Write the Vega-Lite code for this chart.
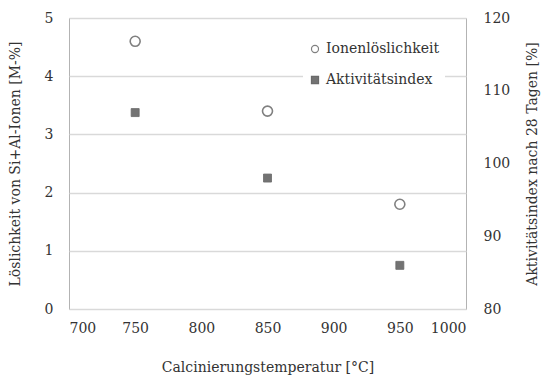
{
  "$schema": "https://vega.github.io/schema/vega-lite/v6.json",
  "width": 397,
  "height": 291,
  "autosize": "none",
  "padding": {"left": 69, "top": 18, "right": 81, "bottom": 74},
  "background": "white",
  "config": {
    "font": "DejaVu Serif",
    "view": {"stroke": "#b3b3b3", "strokeWidth": 1},
    "axis": {
      "labelFont": "DejaVu Serif",
      "titleFont": "DejaVu Serif",
      "labelFontSize": 14,
      "titleFontSize": 14,
      "titleFontWeight": "normal",
      "labelColor": "#333333",
      "titleColor": "#333333",
      "domain": false,
      "ticks": false,
      "gridColor": "#d9d9d9",
      "gridWidth": 1.5
    },
    "legend": {
      "labelFont": "DejaVu Serif",
      "labelFontSize": 14,
      "labelColor": "#333333"
    }
  },
  "data": {
    "values": [
      {"temp": 750, "series": "Ionenlöslichkeit", "loes": 4.6},
      {"temp": 850, "series": "Ionenlöslichkeit", "loes": 3.4},
      {"temp": 950, "series": "Ionenlöslichkeit", "loes": 1.8},
      {"temp": 750, "series": "Aktivitätsindex", "akt": 107},
      {"temp": 850, "series": "Aktivitätsindex", "akt": 98},
      {"temp": 950, "series": "Aktivitätsindex", "akt": 86}
    ]
  },
  "encoding": {
    "x": {
      "field": "temp",
      "type": "quantitative",
      "scale": {"domain": [700, 1000], "nice": false, "zero": false},
      "axis": {
        "values": [700, 750, 800, 850, 900, 950, 1000],
        "format": "d",
        "grid": false,
        "labelPadding": 12,
        "titlePadding": 25,
        "title": "Calcinierungstemperatur [°C]"
      }
    },
    "shape": {
      "field": "series",
      "type": "nominal",
      "scale": {"domain": ["Ionenlöslichkeit", "Aktivitätsindex"], "range": ["circle", "square"]},
      "legend": {
        "title": null,
        "orient": "none",
        "legendX": 234,
        "legendY": 19,
        "fillColor": "white",
        "padding": 5,
        "rowPadding": 17,
        "symbolSize": 50,
        "symbolStrokeWidth": 1.2,
        "labelOffset": 4
      }
    },
    "fill": {
      "field": "series",
      "type": "nominal",
      "scale": {"domain": ["Ionenlöslichkeit", "Aktivitätsindex"], "range": ["white", "#737373"]},
      "legend": {
        "title": null,
        "orient": "none",
        "legendX": 234,
        "legendY": 19,
        "fillColor": "white",
        "padding": 5,
        "rowPadding": 17,
        "symbolSize": 50,
        "symbolStrokeWidth": 1.2,
        "labelOffset": 4
      }
    },
    "stroke": {
      "field": "series",
      "type": "nominal",
      "scale": {"domain": ["Ionenlöslichkeit", "Aktivitätsindex"], "range": ["#808080", "#6a6a6a"]},
      "legend": {
        "title": null,
        "orient": "none",
        "legendX": 234,
        "legendY": 19,
        "fillColor": "white",
        "padding": 5,
        "rowPadding": 17,
        "symbolSize": 50,
        "symbolStrokeWidth": 1.2,
        "labelOffset": 4
      }
    }
  },
  "layer": [
    {
      "transform": [{"filter": "datum.series === 'Ionenlöslichkeit'"}],
      "mark": {"type": "point", "filled": true, "size": 100, "strokeWidth": 1.6, "opacity": 1},
      "encoding": {
        "y": {
          "field": "loes",
          "type": "quantitative",
          "scale": {"domain": [0, 5], "nice": false},
          "axis": {
            "orient": "left",
            "values": [0, 1, 2, 3, 4, 5],
            "grid": true,
            "labelPadding": 16,
            "titlePadding": 22,
            "title": "Löslichkeit von Si+Al-Ionen [M-%]"
          }
        }
      }
    },
    {
      "transform": [{"filter": "datum.series === 'Aktivitätsindex'"}],
      "mark": {"type": "point", "filled": true, "size": 64, "strokeWidth": 0.8, "opacity": 1},
      "encoding": {
        "y": {
          "field": "akt",
          "type": "quantitative",
          "scale": {"domain": [80, 120], "nice": false, "zero": false},
          "axis": {
            "orient": "right",
            "values": [80, 90, 100, 110, 120],
            "grid": false,
            "labelPadding": 17,
            "titlePadding": 30,
            "titleAngle": 270,
            "title": "Aktivitätsindex nach 28 Tagen [%]"
          }
        }
      }
    }
  ],
  "resolve": {"scale": {"y": "independent"}}
}
